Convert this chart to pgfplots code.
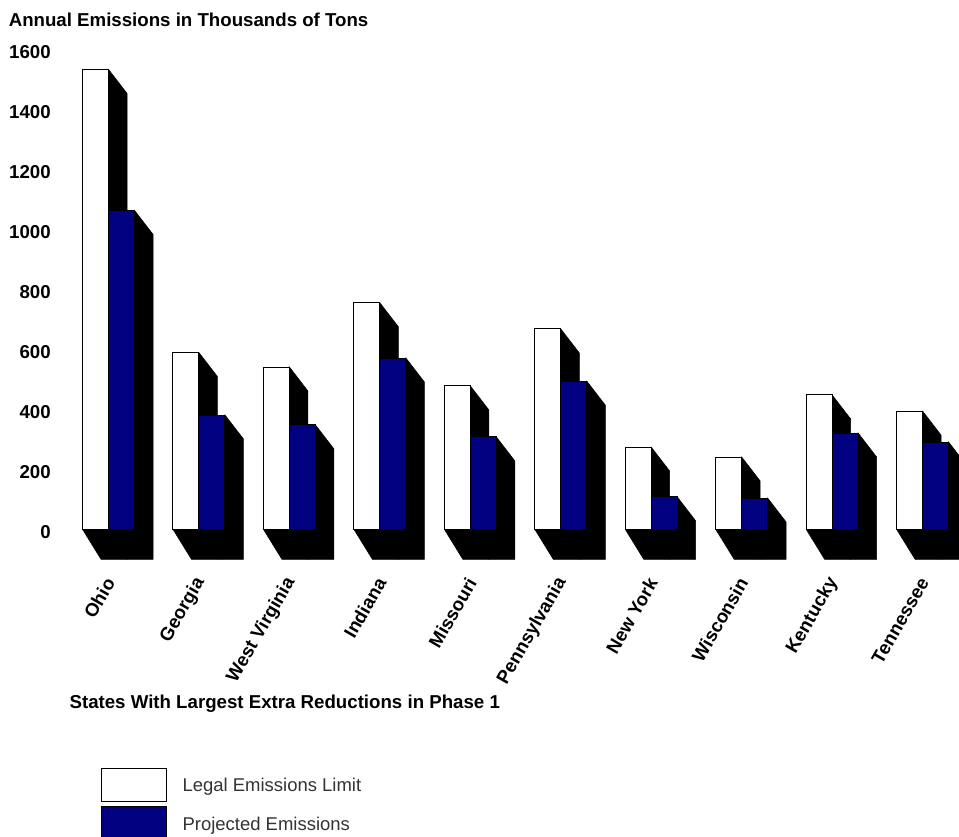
\documentclass[border=0pt]{standalone}
\usepackage{pgfplots}
\pgfplotsset{compat=1.18}
\usepackage{pgfplotstable}
\usepackage{fontspec}
\setmainfont{Liberation Sans}
\definecolor{projblue}{HTML}{000080}

% x = state index, then the two series (thousands of tons)
\pgfplotstableread{
idx limit projected
0   1533  1063
1   589   381
2   541   348
3   755   571
4   478   308
5   668   494
6   274   108
7   241   104
8   448   321
9   394   291
}\emissions

% black block behind a bar: left edge, value
\newcommand{\shadowbar}[2]{%
  \pgfmathsetmacro{\xa}{#1+0.2045}%
  \pgfmathsetmacro{\xb}{#1+0.2874}%
  \pgfmathsetmacro{\xc}{#1+0.4919}%
  \pgfmathsetmacro{\yc}{#2-80}%
  \addplot[draw=black, fill=black, line width=0.4pt, forget plot] coordinates {
    (#1,0) (\xa,-100) (\xc,-100) (\xc,\yc) (\xb,#2) (\xb,0) (#1,0)
  };
}

\pgfplotsset{
  swatch/.style={legend image code/.code={
    \draw[##1, line width=0.75pt] (0pt,-11.2pt) rectangle (48.75pt,13.2pt);
    \path (60.5pt,0pt);
  }},
}

\newcommand{\bigfont}{\fontsize{14pt}{16pt}\selectfont}

\begin{document}
\begin{tikzpicture}
  \path[use as bounding box] (0pt,0pt) rectangle (719.25pt,-627pt);
  \begin{axis}[
      at={(47.475pt,-419.475pt)}, anchor=south west,
      scale only axis,
      width=671.8pt, height=382.5pt,
      xmin=-0.5, xmax=9.403,
      ymin=-100, ymax=1600,
      ytick={0,200,...,1600},
      xtick={0,...,9},
      xticklabels={Ohio,Georgia,West Virginia,Indiana,Missouri,Pennsylvania,New York,Wisconsin,Kentucky,Tennessee},
      major tick length=0pt,
      axis line style={draw=none},
      /pgf/number format/assume math mode=true,
      /pgf/number format/1000 sep={},
      yticklabel style={font=\bigfont\bfseries, inner sep=0pt, anchor=east, xshift=-9.25pt, yshift=-2pt},
      xticklabel style={font=\bigfont\bfseries, inner sep=0pt, rotate=60, anchor=east, xshift=-12.4pt, yshift=-8.5pt},
      bar shift=0pt,
      legend style={at={(axis description cs:0.04175,-0.409)}, anchor=north west,
        draw=none, fill=none, inner sep=0pt, row sep=3.4pt,
        font=\fontsize{13.85pt}{16pt}\selectfont, text=black!80,
        nodes={inner sep=0pt}},
      legend cell align=left,
      clip=true,
    ]
    \shadowbar{-0.2874}{1533} \shadowbar{0}{1063}
    \shadowbar{0.7126}{589}   \shadowbar{1}{381}
    \shadowbar{1.7126}{541}   \shadowbar{2}{348}
    \shadowbar{2.7126}{755}   \shadowbar{3}{571}
    \shadowbar{3.7126}{478}   \shadowbar{4}{308}
    \shadowbar{4.7126}{668}   \shadowbar{5}{494}
    \shadowbar{5.7126}{274}   \shadowbar{6}{108}
    \shadowbar{6.7126}{241}   \shadowbar{7}{104}
    \shadowbar{7.7126}{448}   \shadowbar{8}{321}
    \shadowbar{8.7126}{394}   \shadowbar{9}{291}

    \addplot[ybar, swatch, bar width=19.5pt, draw=black, fill=white, line width=0.75pt]
      table[x expr=\thisrow{idx}-0.1437, y=limit] {\emissions};
    \addplot[ybar, swatch, bar width=19.5pt, draw=black, fill=projblue, line width=0.75pt]
      table[x expr=\thisrow{idx}+0.1437, y=projected] {\emissions};
    \legend{Legal Emissions Limit, Projected Emissions}
  \end{axis}
  \node[anchor=base west, inner sep=0pt, font=\bigfont\bfseries] at (6.4pt,-19.5pt)
    {Annual Emissions in Thousands of Tons};
  \node[anchor=base west, inner sep=0pt, font=\bigfont\bfseries] at (52pt,-531.2pt)
    {States With Largest Extra Reductions in Phase 1};
\end{tikzpicture}
\end{document}
